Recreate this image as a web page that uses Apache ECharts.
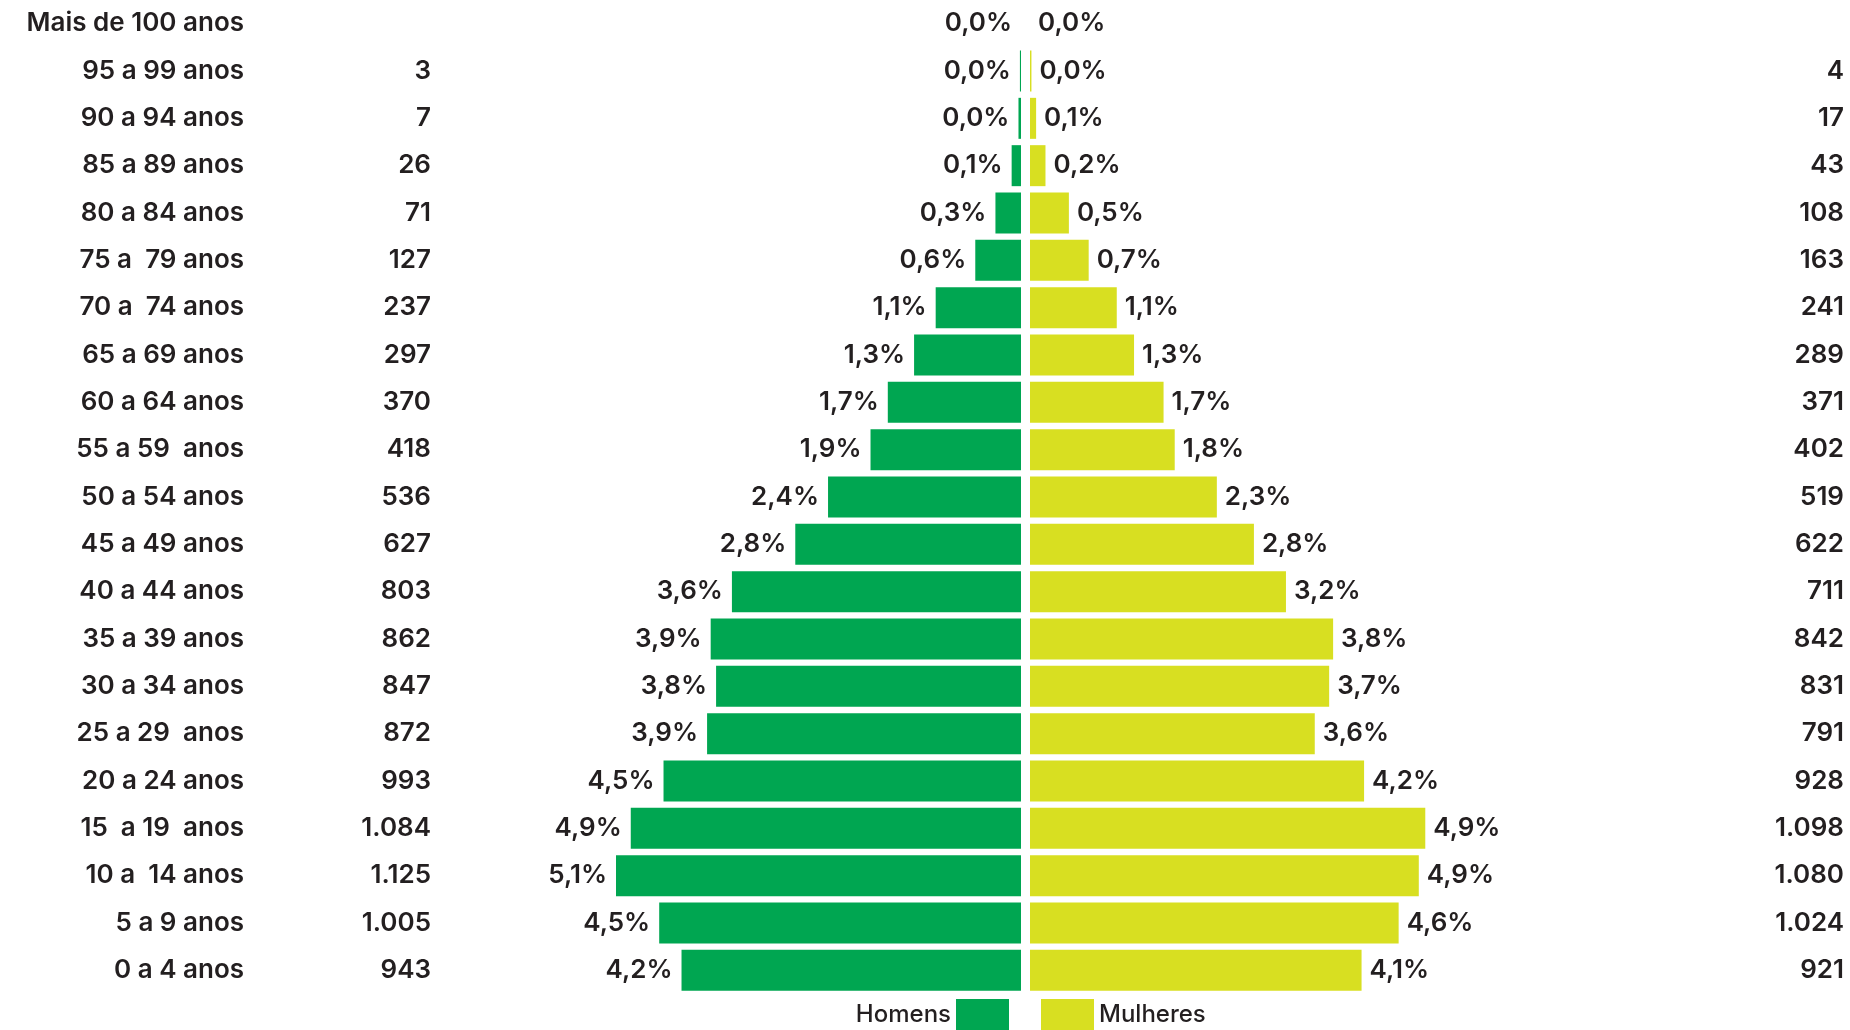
<!DOCTYPE html>
<html>
<head>
<meta charset="utf-8">
<script src="https://cdn.jsdelivr.net/npm/echarts@6/dist/echarts.min.js"></script>
<style>
  html, body { margin: 0; padding: 0; background: #fff; }
  #chart { width: 1850px; height: 1030px; }
</style>
</head>
<body>
<div id="chart"></div>
<script>
// faixas etárias, de cima para baixo
var ages = ['Mais de 100 anos', '95 a 99 anos', '90 a 94 anos', '85 a 89 anos', '80 a 84 anos',
    '75 a  79 anos', '70 a  74 anos', '65 a 69 anos', '60 a 64 anos', '55 a 59  anos',
    '50 a 54 anos', '45 a 49 anos', '40 a 44 anos', '35 a 39 anos', '30 a 34 anos',
    '25 a 29  anos', '20 a 24 anos', '15  a 19  anos', '10 a  14 anos', '5 a 9 anos', '0 a 4 anos'];
var men = [0, 3, 7, 26, 71, 127, 237, 297, 370, 418, 536, 627, 803, 862, 847, 872, 993, 1084, 1125, 1005, 943];
var women = [0, 4, 17, 43, 108, 163, 241, 289, 371, 402, 519, 622, 711, 842, 831, 791, 928, 1098, 1080, 1024, 921];
var menPct = [0.0, 0.0, 0.0, 0.1, 0.3, 0.6, 1.1, 1.3, 1.7, 1.9, 2.4, 2.8, 3.6, 3.9, 3.8, 3.9, 4.5, 4.9, 5.1, 4.5, 4.2];
var womenPct = [0.0, 0.0, 0.1, 0.2, 0.5, 0.7, 1.1, 1.3, 1.7, 1.8, 2.3, 2.8, 3.2, 3.8, 3.7, 3.6, 4.2, 4.9, 4.9, 4.6, 4.1];

var GREEN = '#00a651', YELLOW = '#d8df21', INK = '#231f20';
var FONT = 'Inter';

function fmtCount(v) {
    if (!v) return '';
    return v >= 1000 ? Math.floor(v / 1000) + '.' + String(v % 1000).padStart(3, '0') : String(v);
}
function fmtPct(v) {
    return v.toFixed(1).replace('.', ',') + '%';
}

var txt = { color: INK, fontFamily: FONT, fontSize: 26, fontWeight: 600 };

var chart = echarts.init(document.getElementById('chart'));
chart.setOption({
    animation: false,
    grid: [
        { left: 571, width: 450, top: -6, height: 1000 },
        { left: 1030, width: 450, top: -6, height: 1000 }
    ],
    legend: [
        {
            data: ['Homens'], right: 841, top: 999, padding: 0,
            align: 'right', itemWidth: 53, itemHeight: 31,
            icon: 'rect', textStyle: { color: INK, fontFamily: FONT, fontSize: 24, fontWeight: 500 }
        },
        {
            data: ['Mulheres'], left: 1041, top: 999, padding: 0,
            align: 'left', itemWidth: 53, itemHeight: 31,
            icon: 'rect', textStyle: { color: INK, fontFamily: FONT, fontSize: 24, fontWeight: 500 }
        }
    ],
    xAxis: [
        { gridIndex: 0, type: 'value', min: 0, max: 1250, inverse: true, show: false },
        { gridIndex: 1, type: 'value', min: 0, max: 1250, show: false }
    ],
    yAxis: [
        {   // faixa etária
            gridIndex: 0, type: 'category', data: ages, inverse: true, position: 'left',
            axisLine: { show: false }, axisTick: { show: false },
            axisLabel: Object.assign({ margin: 327, align: 'right' }, txt)
        },
        {   // homens (contagem)
            gridIndex: 0, type: 'category', data: ages, inverse: true, position: 'left',
            axisLine: { show: false }, axisTick: { show: false },
            axisLabel: Object.assign({
                margin: 140, align: 'right',
                formatter: function(v, i) { return fmtCount(men[i]); }
            }, txt)
        },
        {   // mulheres (contagem)
            gridIndex: 1, type: 'category', data: ages, inverse: true, position: 'right',
            axisLine: { show: false }, axisTick: { show: false },
            axisLabel: Object.assign({
                margin: 364, align: 'right',
                formatter: function(v, i) { return fmtCount(women[i]); }
            }, txt)
        }
    ],
    series: [
        {
            name: 'Homens', type: 'bar', xAxisIndex: 0, yAxisIndex: 0,
            data: men, barWidth: 41, itemStyle: { color: GREEN },
            label: Object.assign({
                show: true, position: 'left', distance: 9,
                formatter: function(p) { return fmtPct(menPct[p.dataIndex]); }
            }, txt)
        },
        {
            name: 'Mulheres', type: 'bar', xAxisIndex: 1, yAxisIndex: 2,
            data: women, barWidth: 41, itemStyle: { color: YELLOW },
            label: Object.assign({
                show: true, position: 'right', distance: 8,
                formatter: function(p) { return fmtPct(womenPct[p.dataIndex]); }
            }, txt)
        }
    ]
});
</script>
</body>
</html>
